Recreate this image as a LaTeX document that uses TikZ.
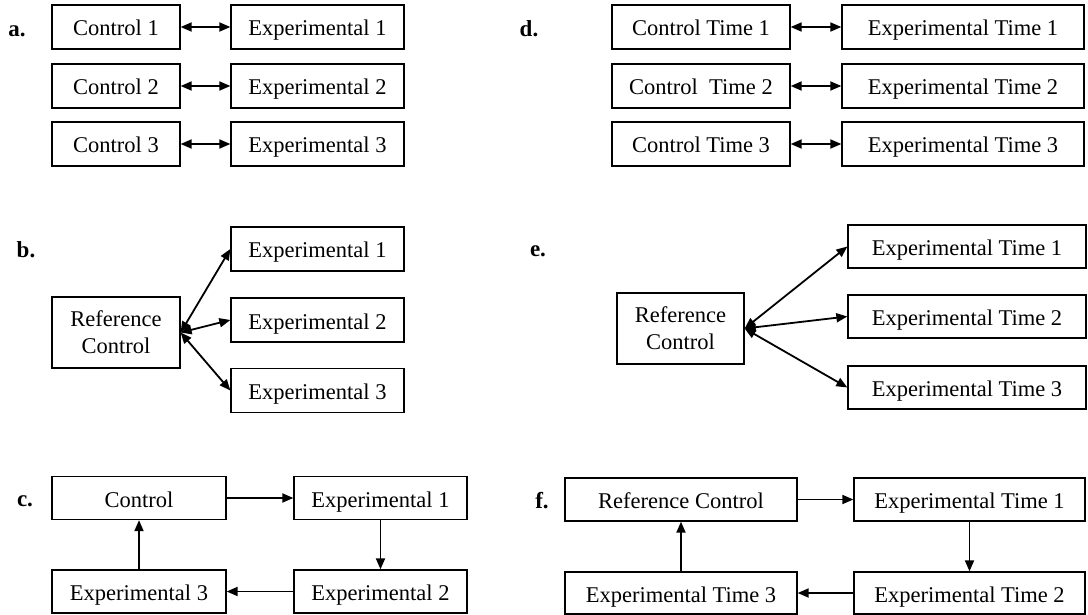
\documentclass[tikz,border=0pt]{standalone}
\usepackage{fontspec}
\setmainfont{Liberation Serif}
\usetikzlibrary{arrows.meta}
\begin{document}
\begin{tikzpicture}[x=1pt,y=-1pt,
  box/.style={draw, line width=1.3pt, inner sep=0pt, align=center,
    font=\fontsize{22.5}{27}\selectfont},
  one/.style={box, text height=21pt, text depth=3pt},
  lbl/.style={anchor=base, inner sep=0pt, font=\fontsize{23}{27}\selectfont\bfseries},
  conn/.style={line width=1.8pt, -{Triangle[length=11pt,width=9pt]}},
  bconn/.style={line width=1.8pt, {Triangle[length=11pt,width=9pt]}-{Triangle[length=11pt,width=9pt]}}]
\useasboundingbox (0,0) rectangle (1088,615);
% panel a
\node[lbl] (la) at (17,36.5) {a.};
\node[one, minimum width=128pt, minimum height=44pt] (ac1) at (116,27) {Control 1};
\node[one, minimum width=173pt, minimum height=44pt] (ae1) at (317.5,27) {Experimental 1};
\node[one, minimum width=128pt, minimum height=44pt] (ac2) at (116,86) {Control 2};
\node[one, minimum width=173pt, minimum height=44pt] (ae2) at (317.5,86) {Experimental 2};
\node[one, minimum width=128pt, minimum height=44pt] (ac3) at (116,144) {Control 3};
\node[one, minimum width=173pt, minimum height=44pt] (ae3) at (317.5,144) {Experimental 3};
\draw[bconn] (ac1) -- (ae1);
\draw[bconn] (ac2) -- (ae2);
\draw[bconn] (ac3) -- (ae3);
% panel d
\node[lbl] (ld) at (529,36.5) {d.};
\node[one, minimum width=178pt, minimum height=44pt] (dc1) at (701,27) {Control Time 1};
\node[one, minimum width=242pt, minimum height=44pt] (de1) at (963,27) {Experimental Time 1};
\node[one, minimum width=178pt, minimum height=44pt] (dc2) at (701,86) {Control\ \ Time 2};
\node[one, minimum width=242pt, minimum height=44pt] (de2) at (963,86) {Experimental Time 2};
\node[one, minimum width=178pt, minimum height=44pt] (dc3) at (701,144) {Control Time 3};
\node[one, minimum width=242pt, minimum height=44pt] (de3) at (963,144) {Experimental Time 3};
\draw[bconn] (dc1) -- (de1);
\draw[bconn] (dc2) -- (de2);
\draw[bconn] (dc3) -- (de3);
% panel b
\node[lbl] (lb) at (26,257) {b.};
\node[box, minimum width=128pt, minimum height=71pt] (brc) at (116,332.5) {Reference\\Control};
\node[one, minimum width=173pt, minimum height=44pt] (be1) at (317.5,249) {Experimental 1};
\node[one, minimum width=173pt, minimum height=44pt] (be2) at (317.5,320) {Experimental 2};
\node[one, minimum width=173pt, minimum height=44pt] (be3) at (317.5,390.5) {Experimental 3};
\draw[bconn] (brc.east) -- (be1.west);
\draw[bconn] (brc.east) -- (be2.west);
\draw[bconn] (brc.east) -- (be3.west);
% panel e
\node[lbl] (le) at (538,256) {e.};
\node[box, minimum width=127pt, minimum height=71pt] (erc) at (680.5,328.5) {Reference\\Control};
\node[one, minimum width=238pt, minimum height=43pt] (ee1) at (967,246.5) {Experimental Time 1};
\node[one, minimum width=238pt, minimum height=43pt] (ee2) at (967,316.5) {Experimental Time 2};
\node[one, minimum width=238pt, minimum height=43pt] (ee3) at (967,387.5) {Experimental Time 3};
\draw[bconn] (erc.east) -- (ee1.west);
\draw[bconn] (erc.east) -- (ee2.west);
\draw[bconn] (erc.east) -- (ee3.west);
% panel c
\node[lbl] (lc) at (25,506) {c.};
\node[one, minimum width=174pt, minimum height=43pt] (cc) at (139,498) {Control};
\node[one, minimum width=173pt, minimum height=43pt] (ce1) at (380.5,498) {Experimental 1};
\node[one, minimum width=173pt, minimum height=43pt] (ce2) at (380.5,591.5) {Experimental 2};
\node[one, minimum width=174pt, minimum height=43pt] (ce3) at (139,591.5) {Experimental 3};
\draw[conn] (cc) -- (ce1);
\draw[conn] (ce1) -- (ce2);
\draw[conn] (ce2) -- (ce3);
\draw[conn] (ce3) -- (cc);
% panel f
\node[lbl] (lf) at (542,508) {f.};
\node[one, minimum width=232pt, minimum height=43pt] (frc) at (681,499.5) {Reference Control};
\node[one, minimum width=231pt, minimum height=43pt] (fe1) at (969.5,499.5) {Experimental Time 1};
\node[one, minimum width=231pt, minimum height=42pt] (fe2) at (969.5,593) {Experimental Time 2};
\node[one, minimum width=232pt, minimum height=42pt] (fe3) at (681,593) {Experimental Time 3};
\draw[conn] (frc) -- (fe1);
\draw[conn] (fe1) -- (fe2);
\draw[conn] (fe2) -- (fe3);
\draw[conn] (fe3) -- (frc);
\end{tikzpicture}
\end{document}
